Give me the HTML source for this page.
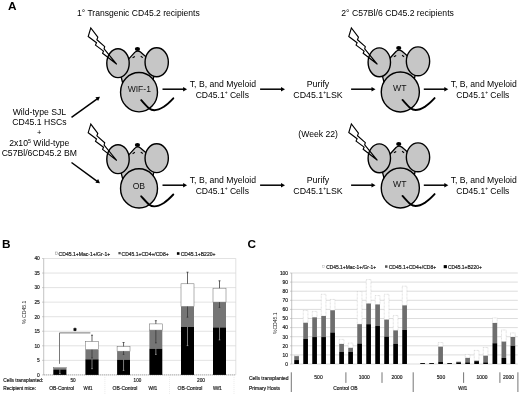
<!DOCTYPE html>
<html><head><meta charset="utf-8"><title>Figure</title>
<style>html,body{margin:0;padding:0;background:#fff;}svg{display:block;font-family:"Liberation Sans",sans-serif;}</style>
</head><body>
<svg width="520" height="394" viewBox="0 0 520 394">
<rect width="520" height="394" fill="#fff"/>
<g id="panelA">
<text x="8.0" y="10.1" font-size="11.8" text-anchor="start" fill="#000" font-weight="bold">A</text>
<text x="138.4" y="16.2" font-size="8.6" text-anchor="middle" fill="#000" textLength="122.8" lengthAdjust="spacingAndGlyphs">1° Transgenic CD45.2 recipients</text>
<text x="397.6" y="16.3" font-size="8.6" text-anchor="middle" fill="#000" textLength="112.6" lengthAdjust="spacingAndGlyphs">2° C57Bl/6 CD45.2 recipients</text>
<g transform="translate(139.3,91.5)">
<g transform="translate(0,0)">
<path d="M-4.58,-39.1 L-20.05,-22.1 L-16.5,-8 L13,-8 L16.7,-26.1 L1.17,-39.5 Q-1.85,-41.7 -4.58,-39.1 Z" fill="#c6c6c6" stroke="#000" stroke-width="1.3" stroke-linejoin="round"/>
<ellipse cx="-21.3" cy="-28.3" rx="11.2" ry="14.45" fill="#c6c6c6" stroke="#000" stroke-width="1.4"/>
<ellipse cx="17.4" cy="-29.25" rx="11.65" ry="14.45" fill="#c6c6c6" stroke="#000" stroke-width="1.4"/>
</g>
<ellipse cx="-0.28" cy="0.7" rx="18.47" ry="19.65" fill="#c6c6c6" stroke="#000" stroke-width="1.4"/>
<g transform="translate(0,0)">
<ellipse cx="-1.85" cy="-42.5" rx="2.6" ry="2.0" fill="#000"/>
<path d="M-6.7,-33.8 L-4.4,-35.1 M1.45,-35.3 L3.5,-33.9" stroke="#000" stroke-width="1.1" fill="none"/>
</g>
<path transform="translate(0,0)" d="M-48.5,-63.6 L-51.1,-55 L-42.8,-48.7 L-43.8,-46.4 L-35.8,-40.4 L-36.7,-38.3 L-22.5,-27.2 L-35.2,-42.6 L-34.6,-44.9 L-42.4,-51.8 L-41.5,-54.4 Z" fill="none" stroke="#000" stroke-width="1.15" stroke-linejoin="miter"/>
<path d="M1.9,8.6 C5,12 8,15.5 10,17 C13,19.4 18,19.3 24.5,15.3 C28,13 31,10 34,6.8" stroke="#000" stroke-width="1.9" fill="none" stroke-linecap="round"/>
</g>
<g transform="translate(139.3,187.7)">
<g transform="translate(0,-0.25)">
<path d="M-4.58,-39.1 L-20.05,-22.1 L-16.5,-8 L13,-8 L16.7,-26.1 L1.17,-39.5 Q-1.85,-41.7 -4.58,-39.1 Z" fill="#c6c6c6" stroke="#000" stroke-width="1.3" stroke-linejoin="round"/>
<ellipse cx="-21.3" cy="-28.3" rx="11.2" ry="14.45" fill="#c6c6c6" stroke="#000" stroke-width="1.4"/>
<ellipse cx="17.4" cy="-29.25" rx="11.65" ry="14.45" fill="#c6c6c6" stroke="#000" stroke-width="1.4"/>
</g>
<ellipse cx="-0.28" cy="0.7" rx="18.47" ry="19.65" fill="#c6c6c6" stroke="#000" stroke-width="1.4"/>
<g transform="translate(0,-0.25)">
<ellipse cx="-1.85" cy="-42.5" rx="2.6" ry="2.0" fill="#000"/>
<path d="M-6.7,-33.8 L-4.4,-35.1 M1.45,-35.3 L3.5,-33.9" stroke="#000" stroke-width="1.1" fill="none"/>
</g>
<path transform="translate(0,0)" d="M-48.5,-63.6 L-51.1,-55 L-42.8,-48.7 L-43.8,-46.4 L-35.8,-40.4 L-36.7,-38.3 L-22.5,-27.2 L-35.2,-42.6 L-34.6,-44.9 L-42.4,-51.8 L-41.5,-54.4 Z" fill="none" stroke="#000" stroke-width="1.15" stroke-linejoin="miter"/>
<path d="M1.9,8.6 C5,12 8,15.5 10,17 C13,19.4 18,19.3 24.5,15.3 C28,13 31,10 34,6.8" stroke="#000" stroke-width="1.9" fill="none" stroke-linecap="round"/>
</g>
<g transform="translate(400.6,91.3)">
<g transform="translate(0,-0.7)">
<path d="M-4.58,-39.1 L-20.05,-22.1 L-16.5,-8 L13,-8 L16.7,-26.1 L1.17,-39.5 Q-1.85,-41.7 -4.58,-39.1 Z" fill="#c6c6c6" stroke="#000" stroke-width="1.3" stroke-linejoin="round"/>
<ellipse cx="-21.3" cy="-28.3" rx="11.2" ry="14.45" fill="#c6c6c6" stroke="#000" stroke-width="1.4"/>
<ellipse cx="17.4" cy="-29.25" rx="11.65" ry="14.45" fill="#c6c6c6" stroke="#000" stroke-width="1.4"/>
</g>
<ellipse cx="-0.28" cy="0.7" rx="19.05" ry="19.95" fill="#c6c6c6" stroke="#000" stroke-width="1.4"/>
<g transform="translate(0,-0.7)">
<ellipse cx="-1.85" cy="-42.5" rx="2.6" ry="2.0" fill="#000"/>
<path d="M-6.7,-33.8 L-4.4,-35.1 M1.45,-35.3 L3.5,-33.9" stroke="#000" stroke-width="1.1" fill="none"/>
</g>
<path transform="translate(-0.7,0.2)" d="M-48.5,-63.6 L-51.1,-55 L-42.8,-48.7 L-43.8,-46.4 L-35.8,-40.4 L-36.7,-38.3 L-22.5,-27.2 L-35.2,-42.6 L-34.6,-44.9 L-42.4,-51.8 L-41.5,-54.4 Z" fill="none" stroke="#000" stroke-width="1.15" stroke-linejoin="miter"/>
<path d="M1.9,8.6 C5,12 8,15.5 10,17 C13,19.4 18,19.3 24.5,15.3 C28,13 31,10 34,6.8" stroke="#000" stroke-width="1.9" fill="none" stroke-linecap="round"/>
</g>
<g transform="translate(400.6,187.3)">
<g transform="translate(0,-0.7)">
<path d="M-4.58,-39.1 L-20.05,-22.1 L-16.5,-8 L13,-8 L16.7,-26.1 L1.17,-39.5 Q-1.85,-41.7 -4.58,-39.1 Z" fill="#c6c6c6" stroke="#000" stroke-width="1.3" stroke-linejoin="round"/>
<ellipse cx="-21.3" cy="-28.3" rx="11.2" ry="14.45" fill="#c6c6c6" stroke="#000" stroke-width="1.4"/>
<ellipse cx="17.4" cy="-29.25" rx="11.65" ry="14.45" fill="#c6c6c6" stroke="#000" stroke-width="1.4"/>
</g>
<ellipse cx="-0.28" cy="0.7" rx="19.05" ry="19.95" fill="#c6c6c6" stroke="#000" stroke-width="1.4"/>
<g transform="translate(0,-0.7)">
<ellipse cx="-1.85" cy="-42.5" rx="2.6" ry="2.0" fill="#000"/>
<path d="M-6.7,-33.8 L-4.4,-35.1 M1.45,-35.3 L3.5,-33.9" stroke="#000" stroke-width="1.1" fill="none"/>
</g>
<path transform="translate(-0.7,0.2)" d="M-48.5,-63.6 L-51.1,-55 L-42.8,-48.7 L-43.8,-46.4 L-35.8,-40.4 L-36.7,-38.3 L-22.5,-27.2 L-35.2,-42.6 L-34.6,-44.9 L-42.4,-51.8 L-41.5,-54.4 Z" fill="none" stroke="#000" stroke-width="1.15" stroke-linejoin="miter"/>
<path d="M1.9,8.6 C5,12 8,15.5 10,17 C13,19.4 18,19.3 24.5,15.3 C28,13 31,10 34,6.8" stroke="#000" stroke-width="1.9" fill="none" stroke-linecap="round"/>
</g>
<text x="139.3" y="91.8" font-size="8.6" text-anchor="middle" fill="#111" textLength="23.2" lengthAdjust="spacingAndGlyphs">WIF-1</text>
<text x="138.9" y="189.2" font-size="8.6" text-anchor="middle" fill="#111">OB</text>
<text x="399.8" y="90.5" font-size="8.6" text-anchor="middle" fill="#111">WT</text>
<text x="399.8" y="186.5" font-size="8.6" text-anchor="middle" fill="#111">WT</text>
<text x="39.4" y="114.8" font-size="8.8" text-anchor="middle" fill="#000" textLength="53.5" lengthAdjust="spacingAndGlyphs">Wild-type SJL</text>
<text x="39.4" y="125.1" font-size="8.8" text-anchor="middle" fill="#000" textLength="54.3" lengthAdjust="spacingAndGlyphs">CD45.1 HSCs</text>
<text x="39.2" y="135.4" font-size="7.5" text-anchor="middle" fill="#000">+</text>
<text x="39.3" y="146.2" font-size="8.8" text-anchor="middle" fill="#000" textLength="60.2" lengthAdjust="spacingAndGlyphs">2x10<tspan font-size="5.5" dy="-3.2">5</tspan><tspan dy="3.2"> Wild-type</tspan></text>
<text x="39.3" y="156.1" font-size="8.8" text-anchor="middle" fill="#000" textLength="75.3" lengthAdjust="spacingAndGlyphs">C57Bl/6CD45.2 BM</text>
<line x1="71.50" y1="117.30" x2="97.56" y2="98.55" stroke="#000" stroke-width="1.5"/><polygon points="100.00,96.80 98.10,101.00 95.41,97.27" fill="#000"/>
<line x1="71.50" y1="162.50" x2="97.58" y2="181.53" stroke="#000" stroke-width="1.5"/><polygon points="100.00,183.30 95.41,182.80 98.12,179.08" fill="#000"/>
<line x1="162.50" y1="89.20" x2="184.10" y2="89.20" stroke="#000" stroke-width="1.5"/><polygon points="187.10,89.20 183.10,91.50 183.10,86.90" fill="#000"/>
<text x="222.9" y="87.3" font-size="8.8" text-anchor="middle" fill="#000" textLength="66.2" lengthAdjust="spacingAndGlyphs">T, B, and Myeloid</text>
<text x="222.3" y="97.6" font-size="8.8" text-anchor="middle" fill="#000" textLength="53.3" lengthAdjust="spacingAndGlyphs">CD45.1<tspan font-size="5" dy="-3.3">+</tspan><tspan dy="3.3"> Cells</tspan></text>
<line x1="260.10" y1="89.20" x2="282.00" y2="89.20" stroke="#000" stroke-width="1.5"/><polygon points="285.00,89.20 281.00,91.50 281.00,86.90" fill="#000"/>
<text x="318" y="87.3" font-size="8.8" text-anchor="middle" fill="#000">Purify</text>
<text x="318" y="97.6" font-size="8.8" text-anchor="middle" fill="#000">CD45.1<tspan font-size="5" dy="-3.3">+</tspan><tspan dy="3.3">LSK</tspan></text>
<line x1="351.10" y1="89.20" x2="372.50" y2="89.20" stroke="#000" stroke-width="1.5"/><polygon points="375.50,89.20 371.50,91.50 371.50,86.90" fill="#000"/>
<line x1="423.80" y1="89.20" x2="445.30" y2="89.20" stroke="#000" stroke-width="1.5"/><polygon points="448.30,89.20 444.30,91.50 444.30,86.90" fill="#000"/>
<text x="483.75" y="87.3" font-size="8.8" text-anchor="middle" fill="#000" textLength="66.2" lengthAdjust="spacingAndGlyphs">T, B, and Myeloid</text>
<text x="482.8" y="97.6" font-size="8.8" text-anchor="middle" fill="#000" textLength="53.0" lengthAdjust="spacingAndGlyphs">CD45.1<tspan font-size="5" dy="-3.3">+</tspan><tspan dy="3.3"> Cells</tspan></text>
<line x1="162.50" y1="185.20" x2="184.10" y2="185.20" stroke="#000" stroke-width="1.5"/><polygon points="187.10,185.20 183.10,187.50 183.10,182.90" fill="#000"/>
<text x="222.9" y="183.3" font-size="8.8" text-anchor="middle" fill="#000" textLength="66.2" lengthAdjust="spacingAndGlyphs">T, B, and Myeloid</text>
<text x="222.3" y="193.6" font-size="8.8" text-anchor="middle" fill="#000" textLength="53.3" lengthAdjust="spacingAndGlyphs">CD45.1<tspan font-size="5" dy="-3.3">+</tspan><tspan dy="3.3"> Cells</tspan></text>
<line x1="260.10" y1="185.20" x2="282.00" y2="185.20" stroke="#000" stroke-width="1.5"/><polygon points="285.00,185.20 281.00,187.50 281.00,182.90" fill="#000"/>
<text x="318" y="183.3" font-size="8.8" text-anchor="middle" fill="#000">Purify</text>
<text x="318" y="193.6" font-size="8.8" text-anchor="middle" fill="#000">CD45.1<tspan font-size="5" dy="-3.3">+</tspan><tspan dy="3.3">LSK</tspan></text>
<line x1="351.10" y1="185.20" x2="372.50" y2="185.20" stroke="#000" stroke-width="1.5"/><polygon points="375.50,185.20 371.50,187.50 371.50,182.90" fill="#000"/>
<line x1="423.80" y1="185.20" x2="445.30" y2="185.20" stroke="#000" stroke-width="1.5"/><polygon points="448.30,185.20 444.30,187.50 444.30,182.90" fill="#000"/>
<text x="483.75" y="183.3" font-size="8.8" text-anchor="middle" fill="#000" textLength="66.2" lengthAdjust="spacingAndGlyphs">T, B, and Myeloid</text>
<text x="482.8" y="193.6" font-size="8.8" text-anchor="middle" fill="#000" textLength="53.0" lengthAdjust="spacingAndGlyphs">CD45.1<tspan font-size="5" dy="-3.3">+</tspan><tspan dy="3.3"> Cells</tspan></text>
<text x="318.1" y="136.8" font-size="8.8" text-anchor="middle" fill="#000" textLength="39.6" lengthAdjust="spacingAndGlyphs">(Week 22)</text>
</g>
<g id="panelB">
<text x="2.05" y="247.9" font-size="11.8" text-anchor="start" fill="#000" font-weight="bold">B</text>
<line x1="42.1" y1="374.90" x2="43.7" y2="374.90" stroke="#aaa" stroke-width="0.6"/>
<text x="39.8" y="376.75" font-size="5.0" text-anchor="end" fill="#222" textLength="2.7" lengthAdjust="spacingAndGlyphs" stroke="#222" stroke-width="0.18">0</text>
<line x1="43.7" y1="360.35" x2="235.8" y2="360.35" stroke="#d6d6d6" stroke-width="0.7"/>
<line x1="42.1" y1="360.35" x2="43.7" y2="360.35" stroke="#aaa" stroke-width="0.6"/>
<text x="39.8" y="362.2" font-size="5.0" text-anchor="end" fill="#222" textLength="2.7" lengthAdjust="spacingAndGlyphs" stroke="#222" stroke-width="0.18">5</text>
<line x1="43.7" y1="345.80" x2="235.8" y2="345.80" stroke="#d6d6d6" stroke-width="0.7"/>
<line x1="42.1" y1="345.80" x2="43.7" y2="345.80" stroke="#aaa" stroke-width="0.6"/>
<text x="39.8" y="347.65" font-size="5.0" text-anchor="end" fill="#222" textLength="5.4" lengthAdjust="spacingAndGlyphs" stroke="#222" stroke-width="0.18">10</text>
<line x1="43.7" y1="331.25" x2="235.8" y2="331.25" stroke="#d6d6d6" stroke-width="0.7"/>
<line x1="42.1" y1="331.25" x2="43.7" y2="331.25" stroke="#aaa" stroke-width="0.6"/>
<text x="39.8" y="333.1" font-size="5.0" text-anchor="end" fill="#222" textLength="5.4" lengthAdjust="spacingAndGlyphs" stroke="#222" stroke-width="0.18">15</text>
<line x1="43.7" y1="316.70" x2="235.8" y2="316.70" stroke="#d6d6d6" stroke-width="0.7"/>
<line x1="42.1" y1="316.70" x2="43.7" y2="316.70" stroke="#aaa" stroke-width="0.6"/>
<text x="39.8" y="318.55" font-size="5.0" text-anchor="end" fill="#222" textLength="5.4" lengthAdjust="spacingAndGlyphs" stroke="#222" stroke-width="0.18">20</text>
<line x1="43.7" y1="302.15" x2="235.8" y2="302.15" stroke="#d6d6d6" stroke-width="0.7"/>
<line x1="42.1" y1="302.15" x2="43.7" y2="302.15" stroke="#aaa" stroke-width="0.6"/>
<text x="39.8" y="304.0" font-size="5.0" text-anchor="end" fill="#222" textLength="5.4" lengthAdjust="spacingAndGlyphs" stroke="#222" stroke-width="0.18">25</text>
<line x1="43.7" y1="287.60" x2="235.8" y2="287.60" stroke="#d6d6d6" stroke-width="0.7"/>
<line x1="42.1" y1="287.60" x2="43.7" y2="287.60" stroke="#aaa" stroke-width="0.6"/>
<text x="39.8" y="289.45" font-size="5.0" text-anchor="end" fill="#222" textLength="5.4" lengthAdjust="spacingAndGlyphs" stroke="#222" stroke-width="0.18">30</text>
<line x1="43.7" y1="273.05" x2="235.8" y2="273.05" stroke="#d6d6d6" stroke-width="0.7"/>
<line x1="42.1" y1="273.05" x2="43.7" y2="273.05" stroke="#aaa" stroke-width="0.6"/>
<text x="39.8" y="274.9" font-size="5.0" text-anchor="end" fill="#222" textLength="5.4" lengthAdjust="spacingAndGlyphs" stroke="#222" stroke-width="0.18">35</text>
<line x1="43.7" y1="258.50" x2="235.8" y2="258.50" stroke="#d6d6d6" stroke-width="0.7"/>
<line x1="42.1" y1="258.50" x2="43.7" y2="258.50" stroke="#aaa" stroke-width="0.6"/>
<text x="39.8" y="260.35" font-size="5.0" text-anchor="end" fill="#222" textLength="5.4" lengthAdjust="spacingAndGlyphs" stroke="#222" stroke-width="0.18">40</text>
<line x1="43.7" y1="258.50" x2="43.7" y2="374.9" stroke="#aaa" stroke-width="0.7"/>
<line x1="235.8" y1="258.50" x2="235.8" y2="374.9" stroke="#d6d6d6" stroke-width="0.7"/>
<line x1="43.7" y1="374.9" x2="235.8" y2="374.9" stroke="#8a8a8a" stroke-width="0.8" stroke-dasharray="1.4,0.6"/>
<rect x="53.3" y="367.4" width="13.10" height="0.80" fill="#fff" stroke="#666" stroke-width="0.5"/>
<rect x="53.3" y="368.2" width="13.10" height="1.30" fill="#757575"/>
<rect x="53.3" y="369.5" width="13.10" height="5.40" fill="#000"/>
<path d="M59.85,369.5 V373.6 M59.05,373.6 H60.65" stroke="#ccc" stroke-width="0.6" fill="none"/>
<rect x="85.4" y="341.3" width="13.20" height="8.40" fill="#fff" stroke="#666" stroke-width="0.5"/>
<rect x="85.4" y="349.7" width="13.20" height="9.60" fill="#757575"/>
<rect x="85.4" y="359.3" width="13.20" height="15.60" fill="#000"/>
<path d="M92.00,341.3 V335.2 M91.00,335.2 H93.00" stroke="#222" stroke-width="0.7" fill="none"/>
<path d="M92.00,349.7 V358 M91.20,358 H92.80" stroke="#222" stroke-width="0.6" fill="none"/>
<path d="M92.00,359.3 V368.7 M91.20,368.7 H92.80" stroke="#ccc" stroke-width="0.6" fill="none"/>
<rect x="117.1" y="346.4" width="12.90" height="4.80" fill="#fff" stroke="#666" stroke-width="0.5"/>
<rect x="117.1" y="351.2" width="12.90" height="8.50" fill="#757575"/>
<rect x="117.1" y="359.7" width="12.90" height="15.20" fill="#000"/>
<path d="M123.55,346.4 V342.5 M122.55,342.5 H124.55" stroke="#222" stroke-width="0.7" fill="none"/>
<path d="M123.55,351.2 V354.4 M122.75,354.4 H124.35" stroke="#222" stroke-width="0.6" fill="none"/>
<path d="M123.55,359.7 V370.4 M122.75,370.4 H124.35" stroke="#ccc" stroke-width="0.6" fill="none"/>
<rect x="149.4" y="323.9" width="12.90" height="6.20" fill="#fff" stroke="#666" stroke-width="0.5"/>
<rect x="149.4" y="330.1" width="12.90" height="18.60" fill="#757575"/>
<rect x="149.4" y="348.7" width="12.90" height="26.20" fill="#000"/>
<path d="M155.85,323.9 V320.7 M154.85,320.7 H156.85" stroke="#222" stroke-width="0.7" fill="none"/>
<path d="M155.85,330.1 V342.9 M155.05,342.9 H156.65" stroke="#222" stroke-width="0.6" fill="none"/>
<path d="M155.85,348.7 V354.4 M155.05,354.4 H156.65" stroke="#ccc" stroke-width="0.6" fill="none"/>
<rect x="181.0" y="283.8" width="13.00" height="22.70" fill="#fff" stroke="#666" stroke-width="0.5"/>
<rect x="181.0" y="306.5" width="13.00" height="20.40" fill="#757575"/>
<rect x="181.0" y="326.9" width="13.00" height="48.00" fill="#000"/>
<path d="M187.50,283.8 V272.2 M186.50,272.2 H188.50" stroke="#222" stroke-width="0.7" fill="none"/>
<path d="M187.50,306.5 V317.2 M186.70,317.2 H188.30" stroke="#222" stroke-width="0.6" fill="none"/>
<path d="M187.50,326.9 V345.6 M186.70,345.6 H188.30" stroke="#ccc" stroke-width="0.6" fill="none"/>
<rect x="213.0" y="288.2" width="13.00" height="13.90" fill="#fff" stroke="#666" stroke-width="0.5"/>
<rect x="213.0" y="302.1" width="13.00" height="25.30" fill="#757575"/>
<rect x="213.0" y="327.4" width="13.00" height="47.50" fill="#000"/>
<path d="M219.50,288.2 V280.8 M218.50,280.8 H220.50" stroke="#222" stroke-width="0.7" fill="none"/>
<path d="M219.50,302.1 V307.4 M218.70,307.4 H220.30" stroke="#222" stroke-width="0.6" fill="none"/>
<path d="M219.50,327.4 V339.9 M218.70,339.9 H220.30" stroke="#ccc" stroke-width="0.6" fill="none"/>
<path d="M59.5,363.8 V332.9 H90.4" stroke="#6a6a6a" stroke-width="0.9" fill="none"/>
<text x="74.9" y="332.8" font-size="7.5" text-anchor="middle" fill="#000" font-weight="bold" stroke="#000" stroke-width="0.5">*</text>
<rect x="55.6" y="252" width="2.1" height="2.5" fill="#fff" stroke="#888" stroke-width="0.45"/>
<text x="58.6" y="255.7" font-size="5.0" text-anchor="start" fill="#111" textLength="51.6" lengthAdjust="spacingAndGlyphs" stroke="#222" stroke-width="0.18">CD45.1+Mac-1+/Gr-1+</text>
<rect x="118.4" y="252" width="2.3" height="2.3" fill="#555"/>
<text x="121.6" y="255.7" font-size="5.0" text-anchor="start" fill="#111" textLength="47" lengthAdjust="spacingAndGlyphs" stroke="#222" stroke-width="0.18">CD45.1+CD4+/CD8+</text>
<rect x="176.9" y="252.2" width="2.6" height="2.6" fill="#000"/>
<text x="180.7" y="255.7" font-size="5.0" text-anchor="start" fill="#111" textLength="34.8" lengthAdjust="spacingAndGlyphs" stroke="#222" stroke-width="0.18">CD45.1+B220+</text>
<text transform="translate(26.3,312.3) rotate(-90)" font-size="5.0" text-anchor="middle" fill="#222" textLength="23.6" lengthAdjust="spacingAndGlyphs">% CD45.1</text>
<text x="3.2" y="382.2" font-size="5.0" text-anchor="start" fill="#111" textLength="40.2" lengthAdjust="spacingAndGlyphs" stroke="#222" stroke-width="0.18">Cells transplanted:</text>
<text x="3.2" y="389.6" font-size="5.0" text-anchor="start" fill="#111" textLength="32.8" lengthAdjust="spacingAndGlyphs" stroke="#222" stroke-width="0.18">Recipient mice:</text>
<text x="73" y="382.2" font-size="5.0" text-anchor="middle" fill="#222" textLength="5.2" lengthAdjust="spacingAndGlyphs" stroke="#222" stroke-width="0.18">50</text>
<text x="137.4" y="382.2" font-size="5.0" text-anchor="middle" fill="#222" textLength="7.6" lengthAdjust="spacingAndGlyphs" stroke="#222" stroke-width="0.18">100</text>
<text x="201" y="382.2" font-size="5.0" text-anchor="middle" fill="#222" textLength="8" lengthAdjust="spacingAndGlyphs" stroke="#222" stroke-width="0.18">200</text>
<text x="61.6" y="389.6" font-size="5.0" text-anchor="middle" fill="#222" textLength="24.9" lengthAdjust="spacingAndGlyphs" stroke="#222" stroke-width="0.18">OB-Control</text>
<text x="125" y="389.6" font-size="5.0" text-anchor="middle" fill="#222" textLength="24.9" lengthAdjust="spacingAndGlyphs" stroke="#222" stroke-width="0.18">OB-Control</text>
<text x="190" y="389.6" font-size="5.0" text-anchor="middle" fill="#222" textLength="24.9" lengthAdjust="spacingAndGlyphs" stroke="#222" stroke-width="0.18">OB-Control</text>
<text x="88" y="389.6" font-size="5.0" text-anchor="middle" fill="#222" textLength="8.8" lengthAdjust="spacingAndGlyphs" stroke="#222" stroke-width="0.18">Wif1</text>
<text x="152.8" y="389.6" font-size="5.0" text-anchor="middle" fill="#222" textLength="8.8" lengthAdjust="spacingAndGlyphs" stroke="#222" stroke-width="0.18">Wif1</text>
<text x="217.4" y="389.6" font-size="5.0" text-anchor="middle" fill="#222" textLength="8.8" lengthAdjust="spacingAndGlyphs" stroke="#222" stroke-width="0.18">Wif1</text>
<line x1="104.9" y1="374.9" x2="104.9" y2="394" stroke="#ddd" stroke-width="0.6" stroke-dasharray="1,1"/>
<line x1="169.5" y1="374.9" x2="169.5" y2="394" stroke="#ddd" stroke-width="0.6" stroke-dasharray="1,1"/>
<line x1="234" y1="374.9" x2="234" y2="394" stroke="#ddd" stroke-width="0.6" stroke-dasharray="1,1"/>
</g>
<g id="panelC">
<text x="247.5" y="247.9" font-size="11.8" text-anchor="start" fill="#000" font-weight="bold">C</text>
<line x1="291.7" y1="364.00" x2="517.8" y2="364.00" stroke="#cfcfcf" stroke-width="0.7"/>
<line x1="290.09999999999997" y1="364.00" x2="291.7" y2="364.00" stroke="#aaa" stroke-width="0.6"/>
<text x="288" y="365.85" font-size="5.0" text-anchor="end" fill="#222" textLength="2.7" lengthAdjust="spacingAndGlyphs" stroke="#222" stroke-width="0.18">0</text>
<line x1="291.7" y1="354.90" x2="517.8" y2="354.90" stroke="#cfcfcf" stroke-width="0.7"/>
<line x1="290.09999999999997" y1="354.90" x2="291.7" y2="354.90" stroke="#aaa" stroke-width="0.6"/>
<text x="288" y="356.75" font-size="5.0" text-anchor="end" fill="#222" textLength="5.4" lengthAdjust="spacingAndGlyphs" stroke="#222" stroke-width="0.18">10</text>
<line x1="291.7" y1="345.80" x2="517.8" y2="345.80" stroke="#cfcfcf" stroke-width="0.7"/>
<line x1="290.09999999999997" y1="345.80" x2="291.7" y2="345.80" stroke="#aaa" stroke-width="0.6"/>
<text x="288" y="347.65000000000003" font-size="5.0" text-anchor="end" fill="#222" textLength="5.4" lengthAdjust="spacingAndGlyphs" stroke="#222" stroke-width="0.18">20</text>
<line x1="291.7" y1="336.70" x2="517.8" y2="336.70" stroke="#cfcfcf" stroke-width="0.7"/>
<line x1="290.09999999999997" y1="336.70" x2="291.7" y2="336.70" stroke="#aaa" stroke-width="0.6"/>
<text x="288" y="338.55" font-size="5.0" text-anchor="end" fill="#222" textLength="5.4" lengthAdjust="spacingAndGlyphs" stroke="#222" stroke-width="0.18">30</text>
<line x1="291.7" y1="327.60" x2="517.8" y2="327.60" stroke="#cfcfcf" stroke-width="0.7"/>
<line x1="290.09999999999997" y1="327.60" x2="291.7" y2="327.60" stroke="#aaa" stroke-width="0.6"/>
<text x="288" y="329.45000000000005" font-size="5.0" text-anchor="end" fill="#222" textLength="5.4" lengthAdjust="spacingAndGlyphs" stroke="#222" stroke-width="0.18">40</text>
<line x1="291.7" y1="318.50" x2="517.8" y2="318.50" stroke="#cfcfcf" stroke-width="0.7"/>
<line x1="290.09999999999997" y1="318.50" x2="291.7" y2="318.50" stroke="#aaa" stroke-width="0.6"/>
<text x="288" y="320.35" font-size="5.0" text-anchor="end" fill="#222" textLength="5.4" lengthAdjust="spacingAndGlyphs" stroke="#222" stroke-width="0.18">50</text>
<line x1="291.7" y1="309.40" x2="517.8" y2="309.40" stroke="#cfcfcf" stroke-width="0.7"/>
<line x1="290.09999999999997" y1="309.40" x2="291.7" y2="309.40" stroke="#aaa" stroke-width="0.6"/>
<text x="288" y="311.25" font-size="5.0" text-anchor="end" fill="#222" textLength="5.4" lengthAdjust="spacingAndGlyphs" stroke="#222" stroke-width="0.18">60</text>
<line x1="291.7" y1="300.30" x2="517.8" y2="300.30" stroke="#cfcfcf" stroke-width="0.7"/>
<line x1="290.09999999999997" y1="300.30" x2="291.7" y2="300.30" stroke="#aaa" stroke-width="0.6"/>
<text x="288" y="302.15000000000003" font-size="5.0" text-anchor="end" fill="#222" textLength="5.4" lengthAdjust="spacingAndGlyphs" stroke="#222" stroke-width="0.18">70</text>
<line x1="291.7" y1="291.20" x2="517.8" y2="291.20" stroke="#cfcfcf" stroke-width="0.7"/>
<line x1="290.09999999999997" y1="291.20" x2="291.7" y2="291.20" stroke="#aaa" stroke-width="0.6"/>
<text x="288" y="293.05" font-size="5.0" text-anchor="end" fill="#222" textLength="5.4" lengthAdjust="spacingAndGlyphs" stroke="#222" stroke-width="0.18">80</text>
<line x1="291.7" y1="282.10" x2="517.8" y2="282.10" stroke="#cfcfcf" stroke-width="0.7"/>
<line x1="290.09999999999997" y1="282.10" x2="291.7" y2="282.10" stroke="#aaa" stroke-width="0.6"/>
<text x="288" y="283.95000000000005" font-size="5.0" text-anchor="end" fill="#222" textLength="5.4" lengthAdjust="spacingAndGlyphs" stroke="#222" stroke-width="0.18">90</text>
<line x1="291.7" y1="273.00" x2="517.8" y2="273.00" stroke="#cfcfcf" stroke-width="0.7"/>
<line x1="290.09999999999997" y1="273.00" x2="291.7" y2="273.00" stroke="#aaa" stroke-width="0.6"/>
<text x="288" y="274.85" font-size="5.0" text-anchor="end" fill="#222" textLength="8.1" lengthAdjust="spacingAndGlyphs" stroke="#222" stroke-width="0.18">100</text>
<line x1="291.7" y1="273.00" x2="291.7" y2="364.0" stroke="#aaa" stroke-width="0.7"/>
<rect x="294.25" y="355.46" width="4.7" height="0.69" fill="#fff" stroke="#bbb" stroke-width="0.5" stroke-dasharray="0.8,0.6"/>
<rect x="294.25" y="356.15" width="4.7" height="3.91" fill="#6e6e6e"/>
<rect x="294.25" y="360.06" width="4.7" height="3.94" fill="#000"/>
<rect x="303.25" y="310.47" width="4.7" height="12.33" fill="#fff" stroke="#bbb" stroke-width="0.5" stroke-dasharray="0.8,0.6"/>
<rect x="303.25" y="322.80" width="4.7" height="16.10" fill="#6e6e6e"/>
<rect x="303.25" y="338.90" width="4.7" height="25.10" fill="#000"/>
<rect x="312.25" y="311.39" width="4.7" height="5.98" fill="#fff" stroke="#bbb" stroke-width="0.5" stroke-dasharray="0.8,0.6"/>
<rect x="312.25" y="317.37" width="4.7" height="19.69" fill="#6e6e6e"/>
<rect x="312.25" y="337.06" width="4.7" height="26.94" fill="#000"/>
<rect x="321.25" y="294.28" width="4.7" height="21.71" fill="#fff" stroke="#bbb" stroke-width="0.5" stroke-dasharray="0.8,0.6"/>
<rect x="321.25" y="315.99" width="4.7" height="21.07" fill="#6e6e6e"/>
<rect x="321.25" y="337.06" width="4.7" height="26.94" fill="#000"/>
<rect x="330.25" y="299.43" width="4.7" height="10.86" fill="#fff" stroke="#bbb" stroke-width="0.5" stroke-dasharray="0.8,0.6"/>
<rect x="330.25" y="310.29" width="4.7" height="22.17" fill="#6e6e6e"/>
<rect x="330.25" y="332.46" width="4.7" height="31.54" fill="#000"/>
<rect x="339.25" y="339.36" width="4.7" height="4.60" fill="#fff" stroke="#bbb" stroke-width="0.5" stroke-dasharray="0.8,0.6"/>
<rect x="339.25" y="343.96" width="4.7" height="7.82" fill="#6e6e6e"/>
<rect x="339.25" y="351.78" width="4.7" height="12.22" fill="#000"/>
<rect x="348.25" y="343.04" width="4.7" height="4.83" fill="#fff" stroke="#bbb" stroke-width="0.5" stroke-dasharray="0.8,0.6"/>
<rect x="348.25" y="347.87" width="4.7" height="3.91" fill="#6e6e6e"/>
<rect x="348.25" y="351.78" width="4.7" height="12.22" fill="#000"/>
<rect x="357.25" y="291.52" width="4.7" height="32.66" fill="#fff" stroke="#bbb" stroke-width="0.5" stroke-dasharray="0.8,0.6"/>
<rect x="357.25" y="324.18" width="4.7" height="19.32" fill="#6e6e6e"/>
<rect x="357.25" y="343.50" width="4.7" height="20.50" fill="#000"/>
<rect x="366.25" y="279.56" width="4.7" height="24.01" fill="#fff" stroke="#bbb" stroke-width="0.5" stroke-dasharray="0.8,0.6"/>
<rect x="366.25" y="303.57" width="4.7" height="20.61" fill="#6e6e6e"/>
<rect x="366.25" y="324.18" width="4.7" height="39.82" fill="#000"/>
<rect x="375.25" y="295.57" width="4.7" height="8.92" fill="#fff" stroke="#bbb" stroke-width="0.5" stroke-dasharray="0.8,0.6"/>
<rect x="375.25" y="304.49" width="4.7" height="21.53" fill="#6e6e6e"/>
<rect x="375.25" y="326.02" width="4.7" height="37.98" fill="#000"/>
<rect x="384.25" y="294.28" width="4.7" height="25.39" fill="#fff" stroke="#bbb" stroke-width="0.5" stroke-dasharray="0.8,0.6"/>
<rect x="384.25" y="319.67" width="4.7" height="16.93" fill="#6e6e6e"/>
<rect x="384.25" y="336.60" width="4.7" height="27.40" fill="#000"/>
<rect x="393.25" y="315.44" width="4.7" height="15.00" fill="#fff" stroke="#bbb" stroke-width="0.5" stroke-dasharray="0.8,0.6"/>
<rect x="393.25" y="330.44" width="4.7" height="13.25" fill="#6e6e6e"/>
<rect x="393.25" y="343.68" width="4.7" height="20.32" fill="#000"/>
<rect x="402.25" y="286.18" width="4.7" height="19.23" fill="#fff" stroke="#bbb" stroke-width="0.5" stroke-dasharray="0.8,0.6"/>
<rect x="402.25" y="305.41" width="4.7" height="24.56" fill="#6e6e6e"/>
<rect x="402.25" y="329.98" width="4.7" height="34.02" fill="#000"/>
<rect x="420.25" y="363.10" width="4.7" height="0.90" fill="#000"/>
<rect x="429.25" y="363.10" width="4.7" height="0.90" fill="#000"/>
<rect x="438.25" y="342.49" width="4.7" height="4.23" fill="#fff" stroke="#bbb" stroke-width="0.5" stroke-dasharray="0.8,0.6"/>
<rect x="438.25" y="346.72" width="4.7" height="15.00" fill="#6e6e6e"/>
<rect x="438.25" y="361.72" width="4.7" height="2.28" fill="#000"/>
<rect x="447.25" y="363.10" width="4.7" height="0.90" fill="#000"/>
<rect x="456.25" y="361.72" width="4.7" height="0.64" fill="#6e6e6e"/>
<rect x="456.25" y="362.36" width="4.7" height="1.64" fill="#000"/>
<rect x="465.25" y="354.45" width="4.7" height="3.50" fill="#fff" stroke="#bbb" stroke-width="0.5" stroke-dasharray="0.8,0.6"/>
<rect x="465.25" y="357.94" width="4.7" height="4.42" fill="#6e6e6e"/>
<rect x="465.25" y="362.36" width="4.7" height="1.64" fill="#000"/>
<rect x="474.25" y="350.40" width="4.7" height="10.30" fill="#fff" stroke="#bbb" stroke-width="0.5" stroke-dasharray="0.8,0.6"/>
<rect x="474.25" y="360.70" width="4.7" height="0.46" fill="#6e6e6e"/>
<rect x="474.25" y="361.16" width="4.7" height="2.84" fill="#000"/>
<rect x="483.25" y="347.46" width="4.7" height="8.28" fill="#fff" stroke="#bbb" stroke-width="0.5" stroke-dasharray="0.8,0.6"/>
<rect x="483.25" y="355.74" width="4.7" height="6.62" fill="#6e6e6e"/>
<rect x="483.25" y="362.36" width="4.7" height="1.64" fill="#000"/>
<rect x="492.50" y="317.92" width="4.7" height="5.06" fill="#fff" stroke="#bbb" stroke-width="0.5" stroke-dasharray="0.8,0.6"/>
<rect x="492.50" y="322.98" width="4.7" height="20.24" fill="#6e6e6e"/>
<rect x="492.50" y="343.22" width="4.7" height="20.78" fill="#000"/>
<rect x="501.50" y="329.98" width="4.7" height="11.68" fill="#fff" stroke="#bbb" stroke-width="0.5" stroke-dasharray="0.8,0.6"/>
<rect x="501.50" y="341.66" width="4.7" height="16.28" fill="#6e6e6e"/>
<rect x="501.50" y="357.94" width="4.7" height="6.06" fill="#000"/>
<rect x="510.50" y="332.92" width="4.7" height="4.05" fill="#fff" stroke="#bbb" stroke-width="0.5" stroke-dasharray="0.8,0.6"/>
<rect x="510.50" y="336.97" width="4.7" height="8.74" fill="#6e6e6e"/>
<rect x="510.50" y="345.71" width="4.7" height="18.29" fill="#000"/>
<rect x="322.2" y="265.4" width="2.2" height="2.2" fill="#fff" stroke="#aaa" stroke-width="0.4"/>
<text x="326.2" y="268.5" font-size="5.0" text-anchor="start" fill="#111" textLength="50" lengthAdjust="spacingAndGlyphs" stroke="#222" stroke-width="0.18">CD45.1+Mac-1+/Gr-1+</text>
<rect x="385" y="265.3" width="2.5" height="2.5" fill="#555"/>
<text x="388.7" y="268.5" font-size="5.0" text-anchor="start" fill="#111" textLength="47.5" lengthAdjust="spacingAndGlyphs" stroke="#222" stroke-width="0.18">CD45.1+CD4+/CD8+</text>
<rect x="443.7" y="265.1" width="3.2" height="3.1" fill="#000"/>
<text x="447.9" y="268.5" font-size="5.0" text-anchor="start" fill="#111" textLength="34" lengthAdjust="spacingAndGlyphs" stroke="#222" stroke-width="0.18">CD45.1+B220+</text>
<text transform="translate(276.5,323.3) rotate(-90)" font-size="5.0" text-anchor="middle" fill="#222" textLength="21.6" lengthAdjust="spacingAndGlyphs">%CD45.1</text>
<text x="249" y="379.6" font-size="5.0" text-anchor="start" fill="#111" textLength="39.6" lengthAdjust="spacingAndGlyphs" stroke="#222" stroke-width="0.18">Cells transplanted</text>
<text x="249" y="389.7" font-size="5.0" text-anchor="start" fill="#111" textLength="31" lengthAdjust="spacingAndGlyphs" stroke="#222" stroke-width="0.18">Primary Hosts</text>
<line x1="345.9" y1="372.3" x2="345.9" y2="382.9" stroke="#666" stroke-width="0.9"/>
<line x1="382.0" y1="372.3" x2="382.0" y2="382.9" stroke="#666" stroke-width="0.9"/>
<line x1="463.6" y1="372.3" x2="463.6" y2="382.9" stroke="#666" stroke-width="0.9"/>
<line x1="499.9" y1="372.3" x2="499.9" y2="382.9" stroke="#666" stroke-width="0.9"/>
<line x1="291.3" y1="372.3" x2="291.3" y2="392" stroke="#666" stroke-width="0.9"/>
<line x1="413.2" y1="372.3" x2="413.2" y2="392" stroke="#666" stroke-width="0.9"/>
<line x1="517.9" y1="372.3" x2="517.9" y2="392" stroke="#666" stroke-width="0.9"/>
<text x="318.5" y="379.4" font-size="5.0" text-anchor="middle" fill="#222" textLength="8.3" lengthAdjust="spacingAndGlyphs" stroke="#222" stroke-width="0.18">500</text>
<text x="364.2" y="379.4" font-size="5.0" text-anchor="middle" fill="#222" textLength="11" lengthAdjust="spacingAndGlyphs" stroke="#222" stroke-width="0.18">1000</text>
<text x="396.9" y="379.4" font-size="5.0" text-anchor="middle" fill="#222" textLength="11" lengthAdjust="spacingAndGlyphs" stroke="#222" stroke-width="0.18">2000</text>
<text x="441" y="379.4" font-size="5.0" text-anchor="middle" fill="#222" textLength="8.3" lengthAdjust="spacingAndGlyphs" stroke="#222" stroke-width="0.18">500</text>
<text x="481.9" y="379.4" font-size="5.0" text-anchor="middle" fill="#222" textLength="11" lengthAdjust="spacingAndGlyphs" stroke="#222" stroke-width="0.18">1000</text>
<text x="508.6" y="379.4" font-size="5.0" text-anchor="middle" fill="#222" textLength="11" lengthAdjust="spacingAndGlyphs" stroke="#222" stroke-width="0.18">2000</text>
<text x="345.4" y="389.6" font-size="5.0" text-anchor="middle" fill="#222" textLength="24.3" lengthAdjust="spacingAndGlyphs" stroke="#222" stroke-width="0.18">Control OB</text>
<text x="462.7" y="389.6" font-size="5.0" text-anchor="middle" fill="#222" textLength="8.9" lengthAdjust="spacingAndGlyphs" stroke="#222" stroke-width="0.18">Wif1</text>
</g>
</svg>
</body></html>
